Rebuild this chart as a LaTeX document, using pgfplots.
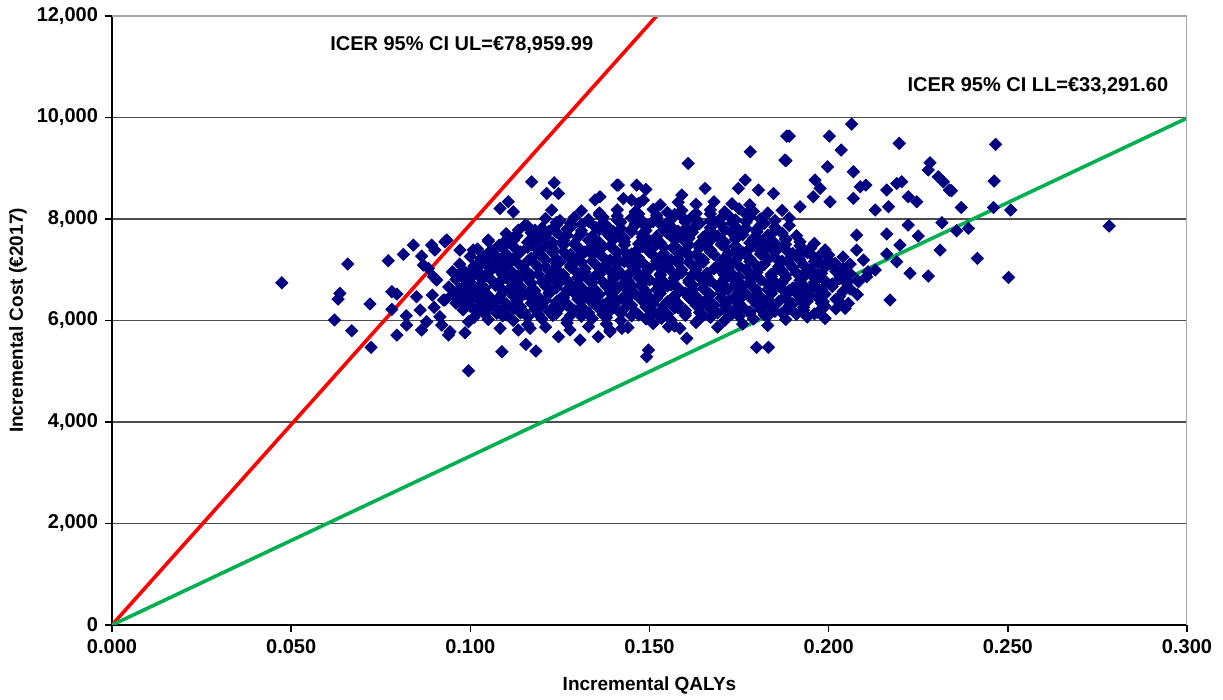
\documentclass[border=0pt]{standalone}
\usepackage{pgfplots}
\pgfplotsset{compat=1.18}
\usepackage{fontspec}
\setmainfont{Liberation Sans}
\definecolor{navy}{RGB}{0,0,128}
\definecolor{exred}{RGB}{255,0,0}
\definecolor{exgreen}{RGB}{0,176,80}
\begin{document}
\begin{tikzpicture}
\begin{axis}[
  scale only axis,
  width=537.5pt, height=304.5pt,
  xmin=0, xmax=0.3, ymin=0, ymax=12000,
  axis x line*=bottom, axis y line*=left,
  axis line style={-, black, line width=0.8pt},
  xtick={0,0.05,0.1,0.15,0.2,0.25,0.3},
  ytick={0,2000,4000,6000,8000,10000,12000},
  tick align=outside, major tick length=3.5pt,
  tick style={black, line width=0.8pt},
  ymajorgrids, grid style={black!70, line width=0.8pt},
  /pgf/number format/assume math mode=true,
  ticklabel style={font=\bfseries\fontsize{10}{12}\selectfont},
  xticklabel style={/pgf/number format/.cd, fixed, fixed zerofill, precision=3},
  yticklabel style={/pgf/number format/.cd, fixed, 1000 sep={,}},
  scaled ticks=false,
  xlabel={Incremental QALYs},
  ylabel={Incremental Cost (€2017)},
  label style={font=\bfseries\fontsize{9.5}{11}\selectfont},
  xlabel style={at={(axis description cs:0.5,0)}, anchor=center, yshift=-30pt},
  ylabel style={at={(axis description cs:-0.0874,0.5)}, anchor=center},
  clip=true,
]
\addplot[only marks, mark=square*, mark size=2.15pt, mark options={rotate=45, fill=navy, draw=navy}] coordinates {
(0.0474,6743)(0.0658,7112)(0.0636,6534)(0.0631,6422)(0.0720,6324)(0.0621,6009)(0.0669,5798)(0.0723,5471)
(0.0771,7177)(0.0781,6567)(0.0795,6521)(0.0781,6219)(0.0813,7303)(0.0841,7486)(0.0864,7269)(0.0892,7486)
(0.0901,7388)(0.0929,7551)(0.0869,7092)(0.0883,7027)(0.0897,6862)(0.0906,6797)(0.0850,6468)(0.0894,6501)
(0.0925,6403)(0.0860,6206)(0.0899,6259)(0.0821,6094)(0.0915,6074)(0.0878,5975)(0.0822,5910)(0.0864,5812)
(0.0795,5713)(0.0920,5910)(0.0939,5713)
(0.0995,5010)(0.1088,5384)(0.1155,5530)(0.1183,5398)(0.1171,8733)(0.1234,8713)(0.1213,8503)(0.1246,8503)
(0.1106,8339)(0.1083,8208)(0.1120,8142)(0.1227,8176)(0.1348,8373)(0.1362,8438)(0.1409,8668)(0.1050,7585)
(0.1008,7388)(0.0934,7585)(0.0971,7388)(0.1036,7256)(0.1027,7092)(0.0980,6994)(0.0999,6830)(0.1055,7125)
(0.1088,7224)(0.1102,7551)(0.1134,7782)(0.1153,7880)(0.0929,6403)(0.0971,6436)(0.1008,6534)(0.1027,6403)
(0.0985,6272)(0.1060,6337)(0.1074,6140)(0.0995,5975)(0.0943,5779)(0.0985,5759)(0.1083,5845)(0.1134,5812)
(0.1167,5845)(0.1246,5680)(0.1278,5812)(0.1357,5680)(0.1390,5812)(0.1306,5615)
(0.1608,9095)(0.1781,9325)(0.1883,9633)(0.1878,9161)(0.1413,8668)(0.1464,8668)(0.1490,8583)(0.1427,8400)
(0.1450,8373)(0.1483,8373)(0.1767,8767)(0.1748,8603)(0.1804,8570)(0.1846,8503)(0.1655,8603)(0.1590,8471)
(0.1497,5418)(0.1492,5286)(0.1604,5648)(0.1799,5471)(0.1832,5471)(0.1585,5845)(0.1553,5878)(0.1534,6042)
(0.1818,6350)(0.1878,6567)(0.1423,5845)(0.1390,5779)
(0.2064,9870)(0.1890,9633)(0.2002,9633)(0.2197,9490)(0.2035,9358)(0.1881,9147)(0.1997,9029)(0.2069,8931)
(0.2283,9108)(0.2278,8964)(0.2306,8832)(0.2320,8733)(0.2337,8570)(0.1962,8767)(0.1976,8603)(0.1957,8438)
(0.2088,8635)(0.2104,8668)(0.2069,8405)(0.2162,8570)(0.2190,8701)(0.2204,8733)(0.2222,8438)(0.2246,8339)
(0.2167,8241)(0.1920,8241)(0.2004,8339)(0.2130,8176)(0.2316,7926)(0.2222,7880)(0.2250,7663)(0.2162,7703)
(0.2078,7683)(0.2199,7486)(0.2311,7388)(0.2162,7309)(0.2190,7157)(0.2227,6929)(0.2278,6875)(0.2171,6403)
(0.2055,6337)(0.2046,6239)(0.2106,6862)(0.2130,6994)(0.2078,7388)(0.2097,7191)(0.1883,6534)(0.1985,6370)
(0.1957,6862)(0.2018,7125)(0.2032,6862)(0.2050,6797)(0.2083,6764)(0.1874,6140)(0.1920,6731)(0.1948,6600)
(0.2466,9470)(0.2462,8747)(0.2370,8228)(0.2460,8228)(0.2508,8176)(0.2343,8556)(0.2357,7768)(0.2390,7814)
(0.2415,7224)(0.2502,6849)(0.2783,7860)
(0.116,5920)(0.121,5870)(0.127,5950)(0.133,5880)(0.138,5930)(0.144,5860)(0.151,5940)(0.157,5890)(0.163,5960)(0.169,5870)(0.176,5930)(0.183,5900)
(0.101,6060)(0.105,6020)(0.109,6090)(0.112,6000)(0.116,6070)(0.120,6030)(0.123,6100)(0.127,6010)(0.131,6080)(0.134,6040)(0.138,6060)(0.142,6000)(0.145,6090)(0.149,6030)(0.153,6070)(0.156,6010)(0.160,6100)(0.164,6040)(0.167,6060)(0.171,6000)(0.175,6080)(0.179,6030)(0.183,6090)(0.188,6020)(0.194,6070)(0.199,6040)
(0.098,6210)(0.102,6170)(0.105,6240)(0.108,6190)(0.112,6230)(0.115,6160)(0.118,6220)(0.122,6180)(0.125,6250)(0.129,6200)(0.132,6160)(0.136,6230)(0.139,6190)(0.143,6240)(0.146,6170)(0.150,6220)(0.153,6180)(0.157,6250)(0.160,6200)(0.164,6160)(0.167,6230)(0.171,6190)(0.174,6240)(0.178,6170)(0.181,6220)(0.185,6180)(0.189,6240)(0.193,6200)(0.197,6160)(0.202,6230)
(0.096,6340)(0.100,6380)(0.103,6320)(0.107,6370)(0.110,6330)(0.113,6390)(0.117,6340)(0.120,6300)(0.124,6370)(0.127,6330)(0.131,6390)(0.134,6350)(0.137,6310)(0.141,6380)(0.144,6340)(0.148,6390)(0.151,6320)(0.155,6370)(0.158,6330)(0.162,6390)(0.165,6350)(0.168,6310)(0.172,6380)(0.175,6340)(0.179,6390)(0.182,6320)(0.186,6370)(0.190,6330)(0.194,6380)(0.198,6340)(0.203,6370)
(0.095,6510)(0.098,6470)(0.102,6530)(0.105,6490)(0.109,6540)(0.112,6480)(0.115,6520)(0.119,6460)(0.122,6530)(0.126,6490)(0.129,6540)(0.133,6470)(0.136,6510)(0.139,6550)(0.143,6480)(0.146,6520)(0.150,6460)(0.153,6530)(0.157,6490)(0.160,6540)(0.163,6470)(0.167,6510)(0.170,6550)(0.174,6480)(0.177,6520)(0.181,6460)(0.184,6530)(0.188,6490)(0.191,6540)(0.195,6480)(0.199,6520)(0.203,6470)(0.208,6510)
(0.094,6660)(0.097,6620)(0.101,6680)(0.104,6640)(0.107,6690)(0.111,6630)(0.114,6670)(0.117,6610)(0.121,6680)(0.124,6640)(0.128,6700)(0.131,6650)(0.134,6610)(0.138,6670)(0.141,6630)(0.145,6690)(0.148,6650)(0.152,6610)(0.155,6680)(0.158,6640)(0.162,6700)(0.165,6630)(0.169,6670)(0.172,6620)(0.176,6690)(0.179,6650)(0.183,6610)(0.186,6680)(0.190,6640)(0.193,6690)(0.197,6630)(0.201,6670)(0.206,6620)
(0.096,6810)(0.099,6770)(0.103,6830)(0.106,6790)(0.110,6840)(0.113,6780)(0.116,6820)(0.120,6760)(0.123,6830)(0.127,6790)(0.130,6850)(0.133,6800)(0.137,6760)(0.140,6820)(0.144,6780)(0.147,6840)(0.150,6800)(0.154,6760)(0.157,6830)(0.161,6790)(0.164,6850)(0.167,6780)(0.171,6820)(0.174,6770)(0.178,6840)(0.181,6800)(0.185,6760)(0.188,6830)(0.192,6790)(0.196,6840)(0.199,6780)(0.203,6820)(0.208,6790)
(0.095,6960)(0.098,6920)(0.102,6980)(0.105,6940)(0.108,6990)(0.112,6930)(0.115,6970)(0.119,6910)(0.122,6980)(0.125,6940)(0.129,7000)(0.132,6950)(0.136,6910)(0.139,6970)(0.142,6930)(0.146,6990)(0.149,6950)(0.153,6910)(0.156,6980)(0.159,6940)(0.163,7000)(0.166,6930)(0.170,6970)(0.173,6920)(0.177,6990)(0.180,6950)(0.184,6910)(0.187,6980)(0.191,6940)(0.194,6990)(0.198,6930)(0.202,6970)(0.206,6920)(0.211,6960)
(0.097,7110)(0.101,7070)(0.104,7130)(0.107,7090)(0.111,7140)(0.114,7080)(0.118,7120)(0.121,7060)(0.124,7130)(0.128,7090)(0.131,7150)(0.135,7100)(0.138,7060)(0.141,7120)(0.145,7080)(0.148,7140)(0.152,7100)(0.155,7060)(0.158,7130)(0.162,7090)(0.165,7150)(0.169,7080)(0.172,7120)(0.175,7070)(0.179,7140)(0.182,7100)(0.186,7060)(0.189,7130)(0.193,7090)(0.197,7140)(0.201,7080)(0.206,7110)
(0.100,7260)(0.103,7220)(0.107,7280)(0.110,7240)(0.113,7290)(0.117,7230)(0.120,7270)(0.124,7210)(0.127,7280)(0.130,7240)(0.134,7300)(0.137,7250)(0.141,7210)(0.144,7270)(0.147,7230)(0.151,7290)(0.154,7250)(0.158,7210)(0.161,7280)(0.164,7240)(0.168,7300)(0.171,7230)(0.175,7270)(0.178,7220)(0.182,7290)(0.185,7250)(0.189,7210)(0.192,7280)(0.196,7240)(0.200,7290)(0.204,7250)
(0.102,7410)(0.106,7370)(0.109,7430)(0.113,7390)(0.116,7440)(0.119,7380)(0.123,7420)(0.126,7360)(0.130,7430)(0.133,7390)(0.137,7450)(0.140,7400)(0.143,7360)(0.147,7420)(0.150,7380)(0.154,7440)(0.157,7400)(0.160,7360)(0.164,7430)(0.167,7390)(0.171,7450)(0.174,7380)(0.178,7420)(0.181,7370)(0.185,7440)(0.188,7400)(0.192,7360)(0.195,7430)(0.199,7390)
(0.105,7560)(0.109,7520)(0.112,7580)(0.116,7540)(0.119,7590)(0.123,7530)(0.126,7570)(0.129,7510)(0.133,7580)(0.136,7540)(0.140,7600)(0.143,7550)(0.147,7510)(0.150,7570)(0.153,7530)(0.157,7590)(0.160,7550)(0.164,7510)(0.167,7580)(0.171,7540)(0.174,7600)(0.178,7530)(0.181,7570)(0.185,7520)(0.188,7590)(0.192,7550)(0.196,7520)
(0.110,7710)(0.113,7670)(0.117,7730)(0.120,7690)(0.124,7740)(0.127,7680)(0.131,7720)(0.134,7660)(0.138,7730)(0.141,7690)(0.145,7750)(0.148,7700)(0.152,7660)(0.155,7720)(0.159,7680)(0.162,7740)(0.166,7700)(0.169,7660)(0.173,7730)(0.176,7690)(0.180,7750)(0.183,7680)(0.187,7720)(0.191,7670)
(0.116,7860)(0.120,7820)(0.124,7880)(0.128,7840)(0.131,7890)(0.135,7830)(0.138,7870)(0.142,7810)(0.146,7880)(0.149,7840)(0.153,7900)(0.156,7850)(0.160,7810)(0.163,7870)(0.167,7830)(0.170,7890)(0.174,7850)(0.177,7810)(0.181,7880)(0.185,7840)(0.189,7870)
(0.121,8010)(0.125,7970)(0.129,8030)(0.133,7990)(0.137,8040)(0.141,7980)(0.145,8020)(0.148,7960)(0.152,8030)(0.156,7990)(0.159,8050)(0.163,8000)(0.167,7960)(0.170,8020)(0.174,7980)(0.178,8040)(0.181,8000)(0.185,7970)(0.189,8020)
(0.131,8160)(0.136,8120)(0.141,8180)(0.146,8140)(0.151,8190)(0.155,8130)(0.159,8170)(0.163,8110)(0.167,8180)(0.171,8140)(0.175,8200)(0.179,8150)(0.183,8120)(0.187,8170)
(0.147,8310)(0.153,8280)(0.158,8330)(0.163,8290)(0.168,8340)(0.173,8300)(0.178,8280)
(0.104,6130)(0.110,6110)(0.114,6150)(0.119,6120)(0.124,6140)(0.128,6100)(0.133,6150)(0.137,6120)(0.142,6140)(0.147,6110)(0.151,6150)(0.155,6120)(0.160,6140)(0.165,6100)(0.169,6150)(0.173,6120)(0.178,6140)(0.182,6110)(0.187,6150)(0.191,6120)(0.196,6130)
(0.100,6280)(0.105,6260)(0.110,6300)(0.114,6270)(0.118,6290)(0.123,6250)(0.127,6300)(0.131,6270)(0.136,6290)(0.140,6260)(0.145,6300)(0.149,6270)(0.154,6290)(0.158,6250)(0.163,6300)(0.167,6270)(0.171,6290)(0.176,6260)(0.180,6300)(0.184,6270)(0.189,6290)(0.193,6260)(0.199,6280)
(0.099,6430)(0.104,6410)(0.108,6450)(0.113,6420)(0.117,6440)(0.121,6400)(0.126,6450)(0.130,6420)(0.135,6440)(0.139,6410)(0.144,6450)(0.148,6420)(0.152,6440)(0.157,6400)(0.161,6450)(0.166,6420)(0.170,6440)(0.175,6410)(0.179,6450)(0.183,6420)(0.188,6440)(0.192,6410)(0.197,6450)(0.202,6420)
(0.100,6580)(0.104,6560)(0.109,6600)(0.113,6570)(0.118,6590)(0.122,6550)(0.127,6600)(0.131,6570)(0.135,6590)(0.140,6560)(0.144,6600)(0.149,6570)(0.153,6590)(0.158,6550)(0.162,6600)(0.166,6570)(0.171,6590)(0.175,6560)(0.180,6600)(0.184,6570)(0.189,6590)(0.193,6560)(0.198,6600)(0.204,6570)
(0.099,6730)(0.103,6710)(0.108,6750)(0.112,6720)(0.117,6740)(0.121,6700)(0.125,6750)(0.130,6720)(0.134,6740)(0.139,6710)(0.143,6750)(0.148,6720)(0.152,6740)(0.156,6700)(0.161,6750)(0.165,6720)(0.170,6740)(0.174,6710)(0.178,6750)(0.183,6720)(0.187,6740)(0.192,6710)(0.196,6750)(0.201,6720)(0.205,6740)
(0.100,6880)(0.104,6860)(0.109,6900)(0.113,6870)(0.117,6890)(0.122,6850)(0.126,6900)(0.131,6870)(0.135,6890)(0.140,6860)(0.144,6900)(0.148,6870)(0.153,6890)(0.157,6850)(0.162,6900)(0.166,6870)(0.171,6890)(0.175,6860)(0.179,6900)(0.184,6870)(0.188,6890)(0.193,6860)(0.197,6900)(0.204,6870)
(0.101,7030)(0.106,7010)(0.110,7050)(0.115,7020)(0.119,7040)(0.123,7000)(0.128,7050)(0.132,7020)(0.137,7040)(0.141,7010)(0.146,7050)(0.150,7020)(0.154,7040)(0.159,7000)(0.163,7050)(0.168,7020)(0.172,7040)(0.177,7010)(0.181,7050)(0.186,7020)(0.190,7040)(0.195,7010)(0.199,7050)(0.204,7020)
(0.103,7180)(0.108,7160)(0.112,7200)(0.116,7170)(0.121,7190)(0.125,7150)(0.130,7200)(0.134,7170)(0.139,7190)(0.143,7160)(0.147,7200)(0.152,7170)(0.156,7190)(0.161,7150)(0.165,7200)(0.170,7170)(0.174,7190)(0.178,7160)(0.183,7200)(0.187,7170)(0.192,7190)(0.196,7160)(0.200,7180)
(0.105,7330)(0.110,7310)(0.114,7350)(0.119,7320)(0.123,7340)(0.128,7300)(0.132,7350)(0.136,7320)(0.141,7340)(0.145,7310)(0.150,7350)(0.154,7320)(0.159,7340)(0.163,7300)(0.167,7350)(0.172,7320)(0.176,7340)(0.181,7310)(0.185,7350)(0.190,7320)(0.194,7340)(0.198,7310)
(0.108,7480)(0.112,7460)(0.117,7500)(0.121,7470)(0.126,7490)(0.130,7450)(0.135,7500)(0.139,7470)(0.143,7490)(0.148,7460)(0.152,7500)(0.157,7470)(0.161,7490)(0.166,7450)(0.170,7500)(0.174,7470)(0.179,7490)(0.183,7460)(0.188,7500)(0.192,7470)
(0.112,7630)(0.117,7610)(0.121,7650)(0.126,7620)(0.130,7640)(0.134,7600)(0.139,7650)(0.143,7620)(0.148,7640)(0.152,7610)(0.157,7650)(0.161,7620)(0.165,7640)(0.170,7600)(0.174,7650)(0.179,7620)(0.183,7640)(0.188,7610)
(0.118,7780)(0.122,7760)(0.127,7800)(0.131,7770)(0.136,7790)(0.140,7750)(0.145,7800)(0.149,7770)(0.154,7790)(0.158,7760)(0.162,7800)(0.167,7770)(0.171,7790)(0.176,7760)(0.180,7800)(0.185,7770)
(0.124,7930)(0.128,7910)(0.133,7950)(0.137,7920)(0.142,7940)(0.146,7900)(0.151,7950)(0.155,7920)(0.160,7940)(0.164,7910)(0.168,7950)(0.173,7920)(0.177,7940)(0.182,7910)
(0.136,8080)(0.141,8060)(0.147,8100)(0.152,8070)(0.157,8090)(0.162,8050)(0.167,8100)(0.172,8070)(0.177,8090)
};
\addplot[exred, line width=1.8pt] coordinates {(0,0) (0.15197,12000)};
\addplot[exgreen, line width=1.8pt] coordinates {(0,0) (0.3,9987.5)};
\draw[gray!70, line width=0.8pt] (axis cs:0,12000) -- (axis cs:0.3,12000) -- (axis cs:0.3,0);
\node[anchor=west, inner sep=0pt, font=\bfseries\fontsize{10}{12}\selectfont] at (axis cs:0.0608,11426) {ICER 95\% CI UL=€78,959.99};
\node[anchor=west, inner sep=0pt, font=\bfseries\fontsize{10}{12}\selectfont] at (axis cs:0.2219,10618) {ICER 95\% CI LL=€33,291.60};
\end{axis}
\pgfresetboundingbox
\path (current axis.south west) ++(-56pt,-37.5pt) rectangle ++(611.5pt,350pt);
\end{tikzpicture}
\end{document}
